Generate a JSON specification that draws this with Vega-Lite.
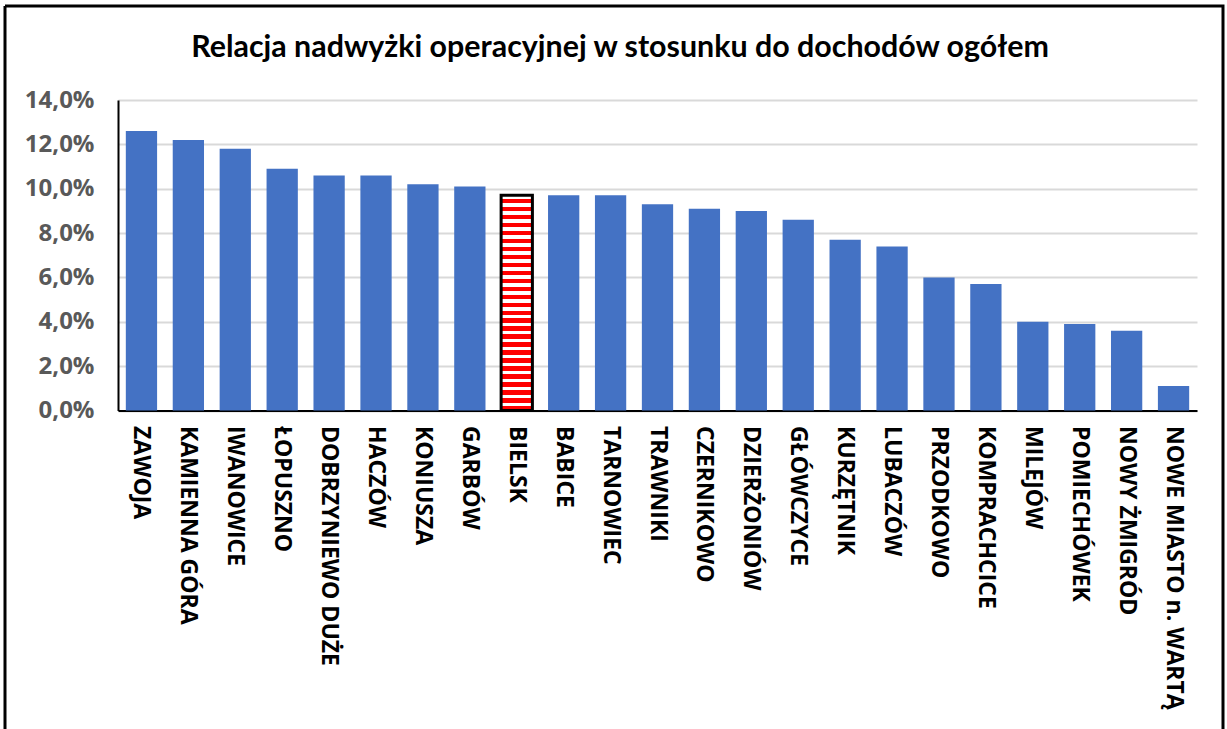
{
  "$schema": "https://vega.github.io/schema/vega-lite/v6.json",
  "width": 1218,
  "height": 723,
  "autosize": {"type": "none"},
  "padding": {"left": 5, "top": 6, "right": 4, "bottom": 0},
  "background": "white",
  "config": {
    "view": {"stroke": "black", "strokeWidth": 3, "strokeDash": [1941, 1218, 723, 0]}
  },
  "title": {
    "text": "Relacja nadwyżki operacyjnej w stosunku do dochodów ogółem",
    "font": "Lato",
    "fontSize": 30.4,
    "fontWeight": "bold",
    "color": "black",
    "anchor": "middle",
    "frame": "group",
    "baseline": "top",
    "offset": -57,
    "dx": 6
  },
  "data": {
    "values": [
      {"gmina": "ZAWOJA", "wartosc": 0.126},
      {"gmina": "KAMIENNA GÓRA", "wartosc": 0.122},
      {"gmina": "IWANOWICE", "wartosc": 0.118},
      {"gmina": "ŁOPUSZNO", "wartosc": 0.109},
      {"gmina": "DOBRZYNIEWO DUŻE", "wartosc": 0.106},
      {"gmina": "HACZÓW", "wartosc": 0.106},
      {"gmina": "KONIUSZA", "wartosc": 0.102},
      {"gmina": "GARBÓW", "wartosc": 0.101},
      {"gmina": "BIELSK", "wartosc": 0.097},
      {"gmina": "BABICE", "wartosc": 0.097},
      {"gmina": "TARNOWIEC", "wartosc": 0.097},
      {"gmina": "TRAWNIKI", "wartosc": 0.093},
      {"gmina": "CZERNIKOWO", "wartosc": 0.091},
      {"gmina": "DZIERŻONIÓW", "wartosc": 0.090},
      {"gmina": "GŁÓWCZYCE", "wartosc": 0.086},
      {"gmina": "KURZĘTNIK", "wartosc": 0.077},
      {"gmina": "LUBACZÓW", "wartosc": 0.074},
      {"gmina": "PRZODKOWO", "wartosc": 0.060},
      {"gmina": "KOMPRACHCICE", "wartosc": 0.057},
      {"gmina": "MILEJÓW", "wartosc": 0.040},
      {"gmina": "POMIECHÓWEK", "wartosc": 0.039},
      {"gmina": "NOWY ŻMIGRÓD", "wartosc": 0.036},
      {"gmina": "NOWE MIASTO n. WARTĄ", "wartosc": 0.011}
    ]
  },
  "mark": {"type": "bar"},
  "encoding": {
    "x": {
      "field": "gmina",
      "type": "nominal",
      "sort": null,
      "scale": {"range": [113, 1192], "paddingInner": 0.3333, "paddingOuter": 0.1667},
      "axis": {
        "orient": "bottom",
        "offset": -318.5,
        "title": null,
        "labelAngle": 90,
        "labelFont": "Open Sans",
        "labelFontWeight": "bold",
        "labelFontSize": 23,
        "labelColor": "black",
        "labelLimit": 600,
        "ticks": false,
        "labelPadding": 15,
        "domainColor": "black",
        "domainWidth": 2,
        "grid": false
      }
    },
    "y": {
      "field": "wartosc",
      "type": "quantitative",
      "scale": {"domain": [0, 0.14], "range": [404.5, 94], "nice": false, "zero": true},
      "axis": {
        "orient": "left",
        "offset": -113,
        "title": null,
        "values": [0, 0.02, 0.04, 0.06, 0.08, 0.1, 0.12, 0.14],
        "labelExpr": "replace(format(datum.value, '.1%'), '.', ',')",
        "labelFont": "Open Sans",
        "labelFontWeight": "bold",
        "labelFontSize": 24,
        "labelColor": "#595959",
        "ticks": false,
        "labelPadding": 24,
        "domainColor": "black",
        "domainWidth": 2,
        "grid": true,
        "gridColor": "#d9d9d9",
        "gridWidth": 2
      }
    },
    "fill": {
      "condition": {
        "test": "datum.gmina === 'BIELSK'",
        "value": {
          "gradient": "linear",
          "x1": 0, "y1": 0, "x2": 0, "y2": 1,
          "stops": [
            {"offset": 0, "color": "white"}, {"offset": 0.0167, "color": "white"}, {"offset": 0.0167, "color": "red"}, {"offset": 0.0370, "color": "red"},
            {"offset": 0.0370, "color": "white"}, {"offset": 0.0537, "color": "white"}, {"offset": 0.0537, "color": "red"}, {"offset": 0.0741, "color": "red"},
            {"offset": 0.0741, "color": "white"}, {"offset": 0.0907, "color": "white"}, {"offset": 0.0907, "color": "red"}, {"offset": 0.1111, "color": "red"},
            {"offset": 0.1111, "color": "white"}, {"offset": 0.1278, "color": "white"}, {"offset": 0.1278, "color": "red"}, {"offset": 0.1481, "color": "red"},
            {"offset": 0.1481, "color": "white"}, {"offset": 0.1648, "color": "white"}, {"offset": 0.1648, "color": "red"}, {"offset": 0.1852, "color": "red"},
            {"offset": 0.1852, "color": "white"}, {"offset": 0.2019, "color": "white"}, {"offset": 0.2019, "color": "red"}, {"offset": 0.2222, "color": "red"},
            {"offset": 0.2222, "color": "white"}, {"offset": 0.2389, "color": "white"}, {"offset": 0.2389, "color": "red"}, {"offset": 0.2593, "color": "red"},
            {"offset": 0.2593, "color": "white"}, {"offset": 0.2759, "color": "white"}, {"offset": 0.2759, "color": "red"}, {"offset": 0.2963, "color": "red"},
            {"offset": 0.2963, "color": "white"}, {"offset": 0.3130, "color": "white"}, {"offset": 0.3130, "color": "red"}, {"offset": 0.3333, "color": "red"},
            {"offset": 0.3333, "color": "white"}, {"offset": 0.3500, "color": "white"}, {"offset": 0.3500, "color": "red"}, {"offset": 0.3704, "color": "red"},
            {"offset": 0.3704, "color": "white"}, {"offset": 0.3870, "color": "white"}, {"offset": 0.3870, "color": "red"}, {"offset": 0.4074, "color": "red"},
            {"offset": 0.4074, "color": "white"}, {"offset": 0.4241, "color": "white"}, {"offset": 0.4241, "color": "red"}, {"offset": 0.4444, "color": "red"},
            {"offset": 0.4444, "color": "white"}, {"offset": 0.4611, "color": "white"}, {"offset": 0.4611, "color": "red"}, {"offset": 0.4815, "color": "red"},
            {"offset": 0.4815, "color": "white"}, {"offset": 0.4981, "color": "white"}, {"offset": 0.4981, "color": "red"}, {"offset": 0.5185, "color": "red"},
            {"offset": 0.5185, "color": "white"}, {"offset": 0.5352, "color": "white"}, {"offset": 0.5352, "color": "red"}, {"offset": 0.5556, "color": "red"},
            {"offset": 0.5556, "color": "white"}, {"offset": 0.5722, "color": "white"}, {"offset": 0.5722, "color": "red"}, {"offset": 0.5926, "color": "red"},
            {"offset": 0.5926, "color": "white"}, {"offset": 0.6093, "color": "white"}, {"offset": 0.6093, "color": "red"}, {"offset": 0.6296, "color": "red"},
            {"offset": 0.6296, "color": "white"}, {"offset": 0.6463, "color": "white"}, {"offset": 0.6463, "color": "red"}, {"offset": 0.6667, "color": "red"},
            {"offset": 0.6667, "color": "white"}, {"offset": 0.6833, "color": "white"}, {"offset": 0.6833, "color": "red"}, {"offset": 0.7037, "color": "red"},
            {"offset": 0.7037, "color": "white"}, {"offset": 0.7204, "color": "white"}, {"offset": 0.7204, "color": "red"}, {"offset": 0.7407, "color": "red"},
            {"offset": 0.7407, "color": "white"}, {"offset": 0.7574, "color": "white"}, {"offset": 0.7574, "color": "red"}, {"offset": 0.7778, "color": "red"},
            {"offset": 0.7778, "color": "white"}, {"offset": 0.7944, "color": "white"}, {"offset": 0.7944, "color": "red"}, {"offset": 0.8148, "color": "red"},
            {"offset": 0.8148, "color": "white"}, {"offset": 0.8315, "color": "white"}, {"offset": 0.8315, "color": "red"}, {"offset": 0.8519, "color": "red"},
            {"offset": 0.8519, "color": "white"}, {"offset": 0.8685, "color": "white"}, {"offset": 0.8685, "color": "red"}, {"offset": 0.8889, "color": "red"},
            {"offset": 0.8889, "color": "white"}, {"offset": 0.9056, "color": "white"}, {"offset": 0.9056, "color": "red"}, {"offset": 0.9259, "color": "red"},
            {"offset": 0.9259, "color": "white"}, {"offset": 0.9426, "color": "white"}, {"offset": 0.9426, "color": "red"}, {"offset": 0.9630, "color": "red"},
            {"offset": 0.9630, "color": "white"}, {"offset": 0.9796, "color": "white"}, {"offset": 0.9796, "color": "red"}, {"offset": 1, "color": "red"}
          ]
        }
      },
      "value": "#4472C4"
    },
    "stroke": {
      "condition": {"test": "datum.gmina === 'BIELSK'", "value": "black"},
      "value": null
    },
    "strokeWidth": {
      "condition": {"test": "datum.gmina === 'BIELSK'", "value": 3},
      "value": 0
    }
  }
}
